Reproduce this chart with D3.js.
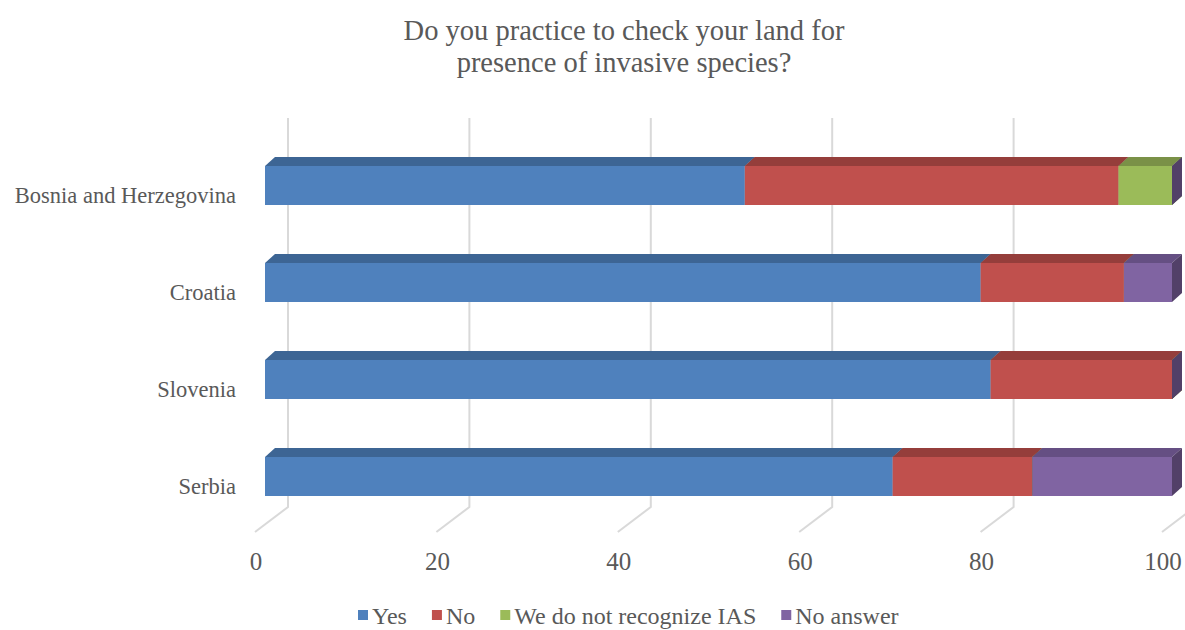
<!DOCTYPE html>
<html>
<head>
<meta charset="utf-8">
<script src="https://cdn.jsdelivr.net/npm/d3@7"></script>
<style>
  html, body { margin: 0; padding: 0; background: #ffffff; }
  svg { display: block; }
  text { font-family: "Liberation Serif", "Times New Roman", serif; fill: #595959; }
</style>
</head>
<body>
<svg id="chart" width="1185" height="630"></svg>
<script>
// Survey answers, percent of respondents per country
const countries = ["Bosnia and Herzegovina", "Croatia", "Slovenia", "Serbia"];
const seriesNames = ["Yes", "No", "We do not recognize IAS", "No answer"];
const yesValues = [52.9, 78.9, 80.0, 69.2];
const noValues = [41.2, 15.8, 20.0, 15.4];
const notRecognizeValues = [5.9, 0, 0, 0];
const noAnswerValues = [0, 5.3, 0, 15.4];
const tickValues = [0, 20, 40, 60, 80, 100];
const titleLines = ["Do you practice to check your land for", "presence of invasive species?"];

// Face colours: front, top, side
const palette = {
  "Yes": ["#4F81BD", "#3D6594", "#34587F"],
  "No": ["#C0504D", "#953E3B", "#7E3432"],
  "We do not recognize IAS": ["#9BBB59", "#7A9147", "#667A3B"],
  "No answer": ["#8064A2", "#654F83", "#524068"]
};

const rows = countries.map((c, i) => ({
  country: c,
  "Yes": yesValues[i],
  "No": noValues[i],
  "We do not recognize IAS": notRecognizeValues[i],
  "No answer": noAnswerValues[i]
}));

const svg = d3.select("#chart");

// Front plane of the bars
const x = d3.scaleLinear().domain([0, 100]).range([265, 1172]);
const y = d3.scalePoint().domain(countries).range([185.5, 476.5]);
const barH = 39;
// Oblique offset of the bar depth
const depthX = 10, depthY = -9;
// Back wall and floor offsets relative to the bar front plane
const backShift = 23, floorFrontShift = -10;
const wallTop = 118, floorBack = 507, floorFront = 532;

// Gridlines on the back wall and their continuation across the floor
const grid = svg.append("g").attr("fill", "none").attr("stroke", "#D9D9D9").attr("stroke-width", 2);
tickValues.forEach(t => {
  const xb = x(t) + backShift;
  const xf = x(t) + floorFrontShift;
  grid.append("path").attr("d", `M${xb},${wallTop} L${xb},${floorBack} L${xf},${floorFront}`);
});

// Value axis labels along the front edge of the floor
svg.append("g").selectAll("text")
  .data(tickValues)
  .join("text")
  .attr("x", d => x(d) + floorFrontShift + 1)
  .attr("y", 570)
  .attr("text-anchor", "middle")
  .attr("font-size", 25)
  .text(d => d);

// Stacked 3D bars
const stack = d3.stack().keys(seriesNames)(rows);
const bars = svg.append("g");
countries.forEach((c, i) => {
  const yTop = y(c) - barH / 2;
  const yBot = yTop + barH;
  stack.forEach(layer => {
    const key = layer.key;
    const [v0, v1] = layer[i];
    const x0 = x(v0), x1 = x(v1);
    const [front, top, side] = palette[key];
    const g = bars.append("g");
    // top face
    g.append("path")
      .attr("d", `M${x0},${yTop} L${x0 + depthX},${yTop + depthY} L${x1 + depthX},${yTop + depthY} L${x1},${yTop} Z`)
      .attr("fill", top);
    // right face
    g.append("path")
      .attr("d", `M${x1},${yTop} L${x1 + depthX},${yTop + depthY} L${x1 + depthX},${yBot + depthY} L${x1},${yBot} Z`)
      .attr("fill", side);
    // front face
    g.append("rect")
      .attr("x", x0).attr("y", yTop)
      .attr("width", Math.max(0, x1 - x0)).attr("height", barH)
      .attr("fill", front);
  });
});

// Category labels
svg.append("g").selectAll("text")
  .data(countries)
  .join("text")
  .attr("x", 236)
  .attr("y", d => y(d) + 17)
  .attr("text-anchor", "end")
  .attr("font-size", 22.5)
  .text(d => d);

// Title
svg.append("g").selectAll("text")
  .data(titleLines)
  .join("text")
  .attr("x", 624)
  .attr("y", (d, i) => 40 + i * 32)
  .attr("text-anchor", "middle")
  .attr("font-size", 28.5)
  .text(d => d);

// Legend
const legend = svg.append("g").attr("transform", "translate(0,624)");
let lx = 358;
seriesNames.forEach(name => {
  const item = legend.append("g").attr("transform", `translate(${lx},0)`);
  item.append("rect").attr("x", 0).attr("y", -14).attr("width", 10).attr("height", 10)
    .attr("fill", palette[name][0]);
  const label = item.append("text").attr("x", 14).attr("y", 0).attr("font-size", 24).text(name);
  lx += 14 + label.node().getComputedTextLength() + 25;
});
</script>
</body>
</html>
